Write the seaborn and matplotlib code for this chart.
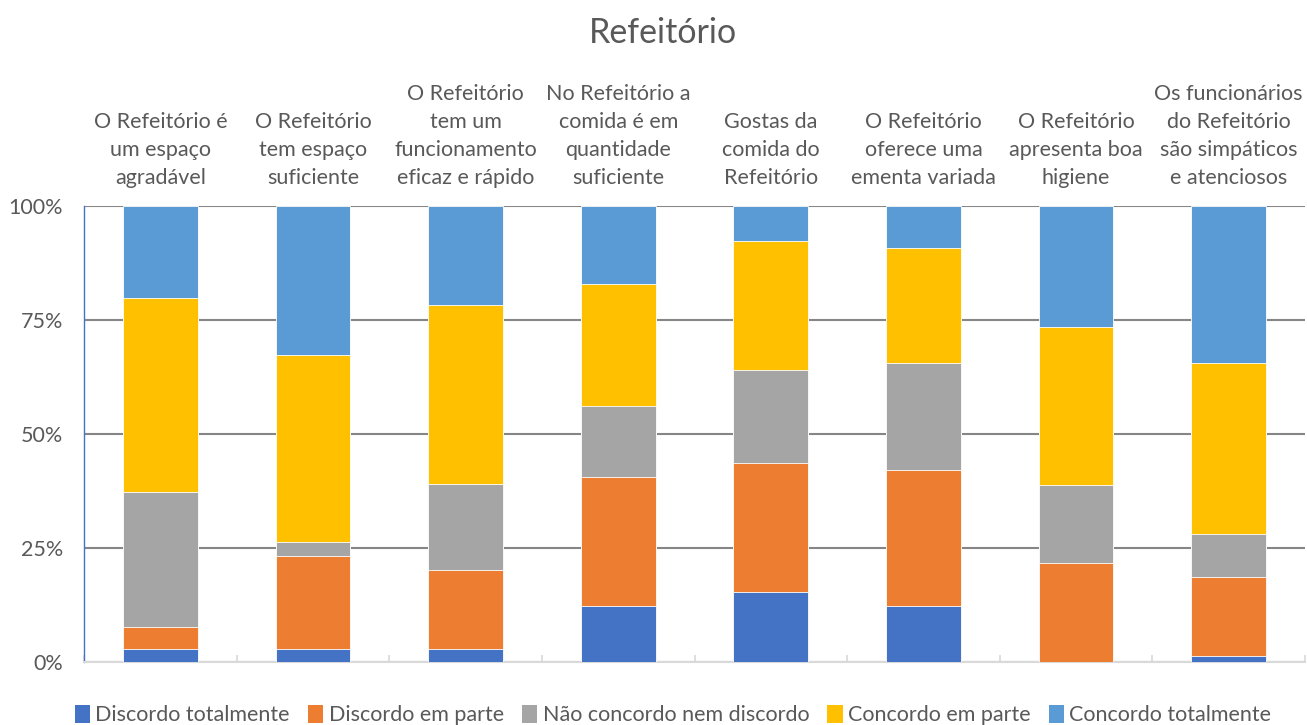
import matplotlib as mpl
import matplotlib.pyplot as plt
import numpy as np
import pandas as pd
import seaborn as sns
from matplotlib.patches import Patch

mpl.use("Agg")

# categories (questions) and answer shares in %
questions = [
    "O Refeitório é\num espaço\nagradável",
    "O Refeitório\ntem espaço\nsuficiente",
    "O Refeitório\ntem um\nfuncionamento\neficaz e rápido",
    "No Refeitório a\ncomida é em\nquantidade\nsuficiente",
    "Gostas da\ncomida do\nRefeitório",
    "O Refeitório\noferece uma\nementa variada",
    "O Refeitório\napresenta boa\nhigiene",
    "Os funcionários\ndo Refeitório\nsão simpáticos\ne atenciosos",
]
answers = [
    "Discordo totalmente",
    "Discordo em parte",
    "Não concordo nem discordo",
    "Concordo em parte",
    "Concordo totalmente",
]
discordo_totalmente = [2.8, 2.8, 2.8, 12.3, 15.3, 12.3, 0.0, 1.3]
discordo_parte = [4.8, 20.4, 17.3, 28.1, 28.3, 29.7, 21.6, 17.2]
neutro = [29.6, 3.1, 18.8, 15.7, 20.4, 23.5, 17.2, 9.4]
concordo_parte = [42.5, 40.9, 39.3, 26.7, 28.3, 25.2, 34.6, 37.6]
concordo_totalmente = [20.3, 32.8, 21.8, 17.2, 7.7, 9.3, 26.6, 34.5]

colors = ["#4472C4", "#ED7D31", "#A5A5A5", "#FFC000", "#5B9BD5"]
TXT = "#595959"

sns.set_style("white")
plt.rcParams["font.family"] = ["Lato", "DejaVu Sans"]

df = pd.DataFrame(
    {
        "Questão": questions,
        answers[0]: discordo_totalmente,
        answers[1]: discordo_parte,
        answers[2]: neutro,
        answers[3]: concordo_parte,
        answers[4]: concordo_totalmente,
    }
)
cum = df[answers].cumsum(axis=1)

fig = plt.figure(figsize=(13.07, 7.25), dpi=100)
ax = fig.add_axes([0.0643, 0.0873, 0.9342, 0.629])

# draw cumulative bars from top to bottom so each segment shows
for ans, col in reversed(list(zip(answers, colors))):
    sns.barplot(
        x=df["Questão"],
        y=cum[ans],
        color=col,
        saturation=1,
        width=0.49,
        edgecolor="white",
        linewidth=0.6,
        ax=ax,
        zorder=3,
    )

ax.set_xlim(-0.5, len(questions) - 0.5)
ax.set_ylim(0, 100)
ax.set_yticks([0, 25, 50, 75, 100])
ax.set_yticklabels(["0%", "25%", "50%", "75%", "100%"], fontsize=15.5, color=TXT)
ax.yaxis.grid(True, color="#868686", linewidth=1.5, zorder=0)
ax.set_axisbelow(True)
ax.set_xlabel("")
ax.set_ylabel("")

ax.set_xticks(range(len(questions)))
ax.set_xticks(np.arange(-0.5, len(questions)), minor=True)
ax.set_xticklabels(questions, fontsize=15.5, color=TXT, linespacing=1.5)
ax.tick_params(axis="x", which="both", top=False, bottom=True, labeltop=True, labelbottom=False,
               direction="in", color="#D9D9D9", width=1.2, pad=13)
ax.tick_params(axis="x", which="major", length=3)
ax.tick_params(axis="x", which="minor", length=5)
ax.tick_params(axis="y", length=0, pad=15)

for s in ["top", "right"]:
    ax.spines[s].set_visible(False)
ax.spines["bottom"].set_color("#D9D9D9")
ax.spines["bottom"].set_linewidth(1.5)
ax.spines["left"].set_color("#4472C4")
ax.spines["left"].set_linewidth(1.0)

fig.text(0.507, 0.954, "Refeitório", ha="center", va="center", fontsize=24.5, color=TXT)

handles = [Patch(facecolor=c, edgecolor="none") for c in colors]
fig.legend(handles, answers, loc="lower center", bbox_to_anchor=(0.515, -0.027), ncol=5,
           frameon=False, fontsize=15.5, handlelength=0.7, handleheight=0.9,
           handletextpad=0.25, columnspacing=0.85, labelcolor=TXT)

fig.savefig("out.png", dpi=100)
